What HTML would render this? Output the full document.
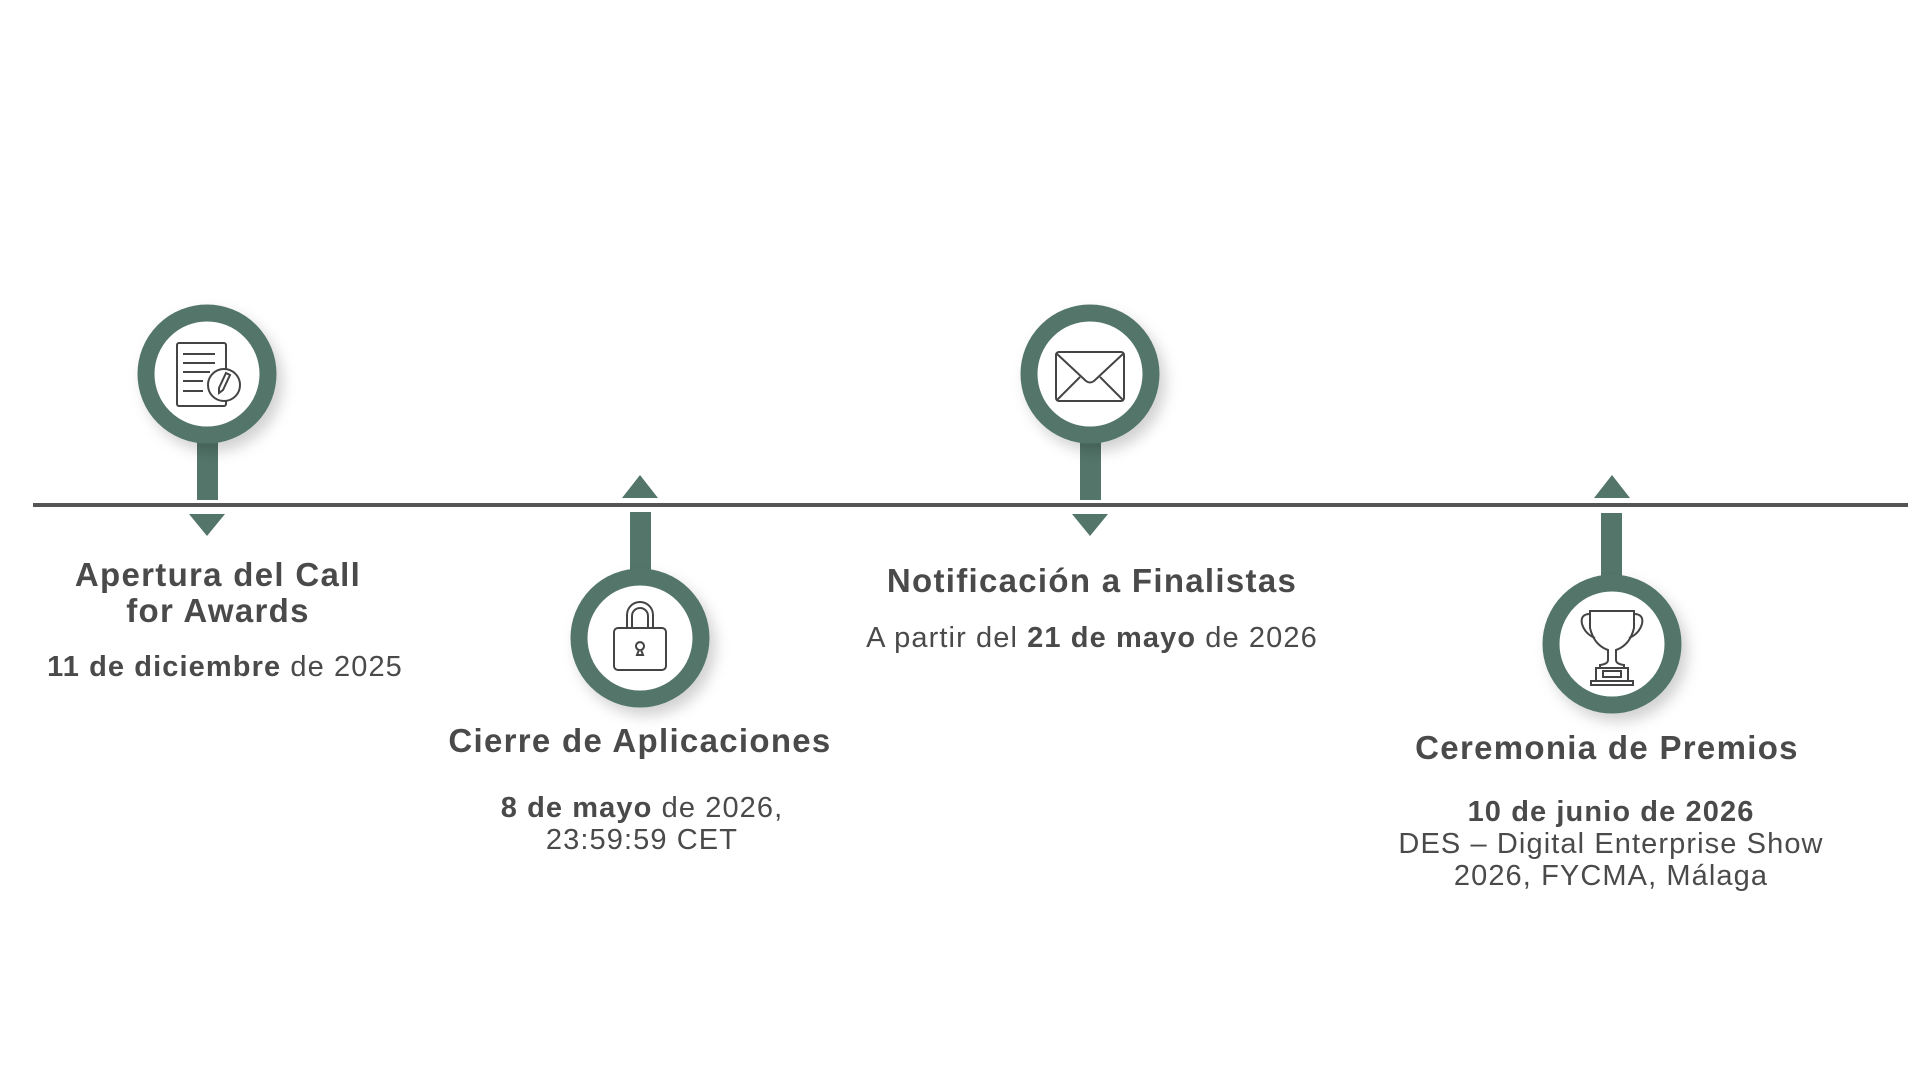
<!DOCTYPE html>
<html><head><meta charset="utf-8"><style>
body{margin:0;width:1920px;height:1080px;background:#fff;position:relative;overflow:hidden;font-family:"Liberation Sans",sans-serif;color:#4a4a4a}
.t{position:absolute;width:800px;text-align:center;font-weight:bold;font-size:33px;line-height:36px;letter-spacing:1.3px}
.d{position:absolute;width:800px;text-align:center;font-size:29px;line-height:32px;letter-spacing:1.1px}
svg{position:absolute;left:0;top:0}
</style></head><body>
<svg width="1920" height="1080">
<defs><filter id="sh" x="-30%" y="-30%" width="170%" height="170%"><feDropShadow dx="6" dy="8" stdDeviation="7" flood-color="#000" flood-opacity="0.18"/></filter></defs>
<line x1="33" y1="505" x2="1908" y2="505" stroke="#555" stroke-width="4"/>
<g fill="#53756a">
<rect x="197" y="435" width="21" height="65"/>
<polygon points="189,514 225,514 207,536"/>
<polygon points="622,498 658,498 640,475"/>
<rect x="630" y="512" width="21" height="62"/>
<rect x="1080" y="435" width="21" height="65"/>
<polygon points="1072,514 1108,514 1090,536"/>
<polygon points="1594,498 1630,498 1612,475"/>
<rect x="1601" y="513" width="21" height="65"/>
</g>
<g stroke="#53756a" stroke-width="17" fill="#fff" filter="url(#sh)">
<circle cx="207" cy="374" r="61"/>
<circle cx="640" cy="638" r="61"/>
<circle cx="1090" cy="374" r="61"/>
<circle cx="1612" cy="644" r="61"/>
</g>
<g fill="none" stroke="#444" stroke-width="2">
<rect x="177" y="343" width="49" height="63" rx="2"/>
<line x1="183" y1="354" x2="215" y2="354"/><line x1="183" y1="363" x2="215" y2="363"/>
<line x1="183" y1="372" x2="210" y2="372"/><line x1="183" y1="381" x2="203" y2="381"/><line x1="183" y1="391" x2="203" y2="391"/>
<circle cx="224" cy="385" r="16" fill="#fff"/>
<path d="M226 373 L230 375 L223 390 L219 393 L219 388 Z"/>
<path d="M627 628 V615 a13 13 0 0 1 26 0 V628"/><path d="M632 628 V616 a8 8 0 0 1 16 0 V628"/>
<rect x="614" y="628" width="52" height="42" rx="4"/>
<path d="M637 655 l2-5 a4 4 0 1 1 2 0 l2 5 Z"/>
<rect x="1056" y="352" width="68" height="49" rx="3"/>
<path d="M1056 353 L1086 381 Q1090 384 1094 381 L1124 353"/>
<line x1="1057" y1="400" x2="1080" y2="377"/><line x1="1123" y1="400" x2="1100" y2="377"/>
<path d="M1590 611 H1634 V628 Q1630 645 1616 650 V660 Q1616 664 1624 665 V668 H1600 V665 Q1608 664 1608 660 V650 Q1594 645 1590 628 Z"/>
<path d="M1590 614 Q1580 614 1582 624 Q1585 634 1595 638"/><path d="M1634 614 Q1644 614 1642 624 Q1639 634 1629 638"/>
<rect x="1596" y="668" width="32" height="13"/><rect x="1603" y="671" width="18" height="6"/>
<rect x="1591" y="681" width="42" height="4"/>
</g>
</svg>
<div class="t" style="left:-182px;top:557px">Apertura del Call<br>for Awards</div>
<div class="d" style="left:-175px;top:651px"><b>11 de diciembre</b> de 2025</div>
<div class="t" style="left:240px;top:723px">Cierre de Aplicaciones</div>
<div class="d" style="left:242px;top:792px"><b>8 de mayo</b> de 2026,<br>23:59:59 CET</div>
<div class="t" style="left:692px;top:563px">Notificación a Finalistas</div>
<div class="d" style="left:692px;top:622px">A partir del <b>21 de mayo</b> de 2026</div>
<div class="t" style="left:1207px;top:730px">Ceremonia de Premios</div>
<div class="d" style="left:1211px;top:796px"><b>10 de junio de 2026</b><br>DES – Digital Enterprise Show<br>2026, FYCMA, Málaga</div>
</body></html>
